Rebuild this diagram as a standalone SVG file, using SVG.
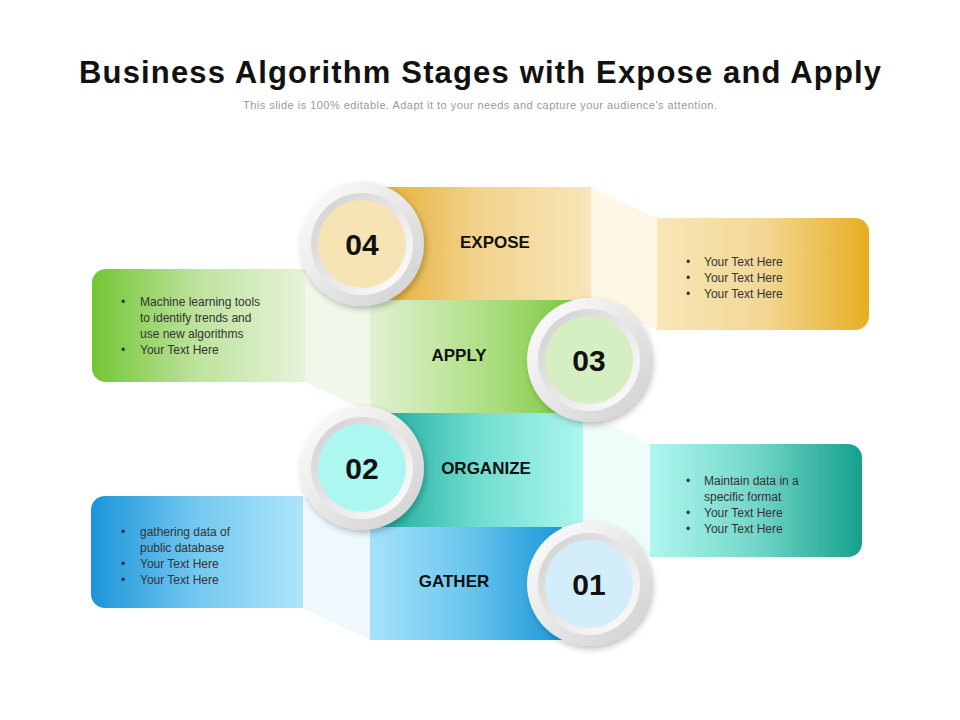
<svg xmlns="http://www.w3.org/2000/svg" width="960" height="720" viewBox="0 0 960 720">
<defs>
<linearGradient id="gE" x1="0" x2="1"><stop offset="0" stop-color="#e6ac2e"/><stop offset="0.5" stop-color="#f2d38e"/><stop offset="1" stop-color="#f8e6b8"/></linearGradient>
<linearGradient id="gR1" x1="0" x2="1"><stop offset="0" stop-color="#f8e6b8"/><stop offset="0.5" stop-color="#f3d796"/><stop offset="1" stop-color="#e7ae22"/></linearGradient>
<linearGradient id="gA" x1="0" x2="1"><stop offset="0" stop-color="#e2f2d2"/><stop offset="0.6" stop-color="#a8dc7a"/><stop offset="1" stop-color="#72c633"/></linearGradient>
<linearGradient id="gL1" x1="0" x2="1"><stop offset="0" stop-color="#72c633"/><stop offset="0.5" stop-color="#bfe39e"/><stop offset="1" stop-color="#e6f3da"/></linearGradient>
<linearGradient id="gO" x1="0" x2="1"><stop offset="0" stop-color="#16a89a"/><stop offset="0.5" stop-color="#6fdccf"/><stop offset="1" stop-color="#adf7ef"/></linearGradient>
<linearGradient id="gR2" x1="0" x2="1"><stop offset="0" stop-color="#aef7ef"/><stop offset="0.5" stop-color="#72d6c8"/><stop offset="1" stop-color="#15a08d"/></linearGradient>
<linearGradient id="gG" x1="0" x2="1"><stop offset="0" stop-color="#a6e2fa"/><stop offset="0.5" stop-color="#6cc6ee"/><stop offset="1" stop-color="#1b98da"/></linearGradient>
<linearGradient id="gL2" x1="0" x2="1"><stop offset="0" stop-color="#1b94da"/><stop offset="0.5" stop-color="#74c8f0"/><stop offset="1" stop-color="#aee6fb"/></linearGradient>
<linearGradient id="ring" x1="0" y1="0" x2="1" y2="1"><stop offset="0" stop-color="#ffffff"/><stop offset="1" stop-color="#cfcfcf"/></linearGradient>
<linearGradient id="ring2" x1="0" y1="0" x2="1" y2="1"><stop offset="0" stop-color="#cfcfcf"/><stop offset="1" stop-color="#ffffff"/></linearGradient>
<filter id="sh" x="-30%" y="-30%" width="160%" height="160%"><feDropShadow dx="2" dy="3" stdDeviation="3" flood-color="#000" flood-opacity="0.25"/></filter>
</defs>
<style>
.t{font-family:"Liberation Sans",Arial,sans-serif;}
.lab{font-family:"Liberation Sans",Arial,sans-serif;font-weight:bold;font-size:17px;fill:#111;text-anchor:middle}
.num{font-family:"Liberation Sans",Arial,sans-serif;font-weight:bold;font-size:30px;fill:#111;text-anchor:middle}
.bt{font-family:"Liberation Sans",Arial,sans-serif;font-size:12px;fill:#333}
</style>
<text class="t" x="480" y="83" font-size="31" font-weight="bold" text-anchor="middle" fill="#111" textLength="802" lengthAdjust="spacing">Business Algorithm Stages with Expose and Apply</text>
<text class="t" x="480" y="109" font-size="11" text-anchor="middle" fill="#999" textLength="474" lengthAdjust="spacing">This slide is 100% editable. Adapt it to your needs and capture your audience's attention.</text>
<g id="connectors">
<polygon points="590,187 657,218 657,330 590,300" fill="#fdf7e6"/>
<polygon points="305,269 370,300 370,413 305,382" fill="#f1f8ea"/>
<polygon points="583,413 650,444 650,557 583,526" fill="#eefcfa"/>
<polygon points="303,496 370,527 370,640 303,608" fill="#eef8fd"/>
</g>
<g id="expose"><rect x="370" y="187" width="221" height="113" fill="url(#gE)"/><text class="lab" x="495" y="248">EXPOSE</text></g>
<g id="apply"><rect x="370" y="300" width="216" height="113" fill="url(#gA)"/><text class="lab" x="459" y="361">APPLY</text></g>
<g id="organize"><rect x="370" y="413" width="213" height="114" fill="url(#gO)"/><text class="lab" x="486" y="474">ORGANIZE</text></g>
<g id="gather"><rect x="370" y="527" width="192" height="113" fill="url(#gG)"/><text class="lab" x="454" y="587">GATHER</text></g>
<g id="box-r1"><path d="M657,218 H855 a14,14 0 0 1 14,14 V316 a14,14 0 0 1 -14,14 H657 Z" fill="url(#gR1)"/>
<text class="bt"><tspan x="686" y="266">•</tspan><tspan x="704" y="266">Your Text Here</tspan><tspan x="686" y="282">•</tspan><tspan x="704" y="282">Your Text Here</tspan><tspan x="686" y="298">•</tspan><tspan x="704" y="298">Your Text Here</tspan></text></g>
<g id="box-l1"><path d="M305,269 H106 a14,14 0 0 0 -14,14 V368 a14,14 0 0 0 14,14 H305 Z" fill="url(#gL1)"/>
<text class="bt"><tspan x="121" y="306">•</tspan><tspan x="140" y="306">Machine learning tools</tspan><tspan x="140" y="322">to identify trends and</tspan><tspan x="140" y="338">use new algorithms</tspan><tspan x="121" y="354">•</tspan><tspan x="140" y="354">Your Text Here</tspan></text></g>
<g id="box-r2"><path d="M650,444 H848 a14,14 0 0 1 14,14 V543 a14,14 0 0 1 -14,14 H650 Z" fill="url(#gR2)"/>
<text class="bt"><tspan x="686" y="485">•</tspan><tspan x="704" y="485">Maintain data in  a</tspan><tspan x="704" y="501">specific format</tspan><tspan x="686" y="517">•</tspan><tspan x="704" y="517">Your Text Here</tspan><tspan x="686" y="533">•</tspan><tspan x="704" y="533">Your Text Here</tspan></text></g>
<g id="box-l2"><path d="M303,496 H105 a14,14 0 0 0 -14,14 V594 a14,14 0 0 0 14,14 H303 Z" fill="url(#gL2)"/>
<text class="bt"><tspan x="121" y="536">•</tspan><tspan x="140" y="536">gathering data of</tspan><tspan x="140" y="552">public database</tspan><tspan x="121" y="568">•</tspan><tspan x="140" y="568">Your Text Here</tspan><tspan x="121" y="584">•</tspan><tspan x="140" y="584">Your Text Here</tspan></text></g>
<g id="c04"><circle cx="362" cy="244" r="62" fill="url(#ring)" filter="url(#sh)"/><circle cx="362" cy="244" r="51" fill="url(#ring2)"/><circle cx="362" cy="244" r="44" fill="#f7e4b4"/><text class="num" x="362" y="255">04</text></g>
<g id="c03"><circle cx="589" cy="360" r="62" fill="url(#ring)" filter="url(#sh)"/><circle cx="589" cy="360" r="51" fill="url(#ring2)"/><circle cx="589" cy="360" r="44" fill="#d5efc2"/><text class="num" x="589" y="371">03</text></g>
<g id="c02"><circle cx="362" cy="468" r="62" fill="url(#ring)" filter="url(#sh)"/><circle cx="362" cy="468" r="51" fill="url(#ring2)"/><circle cx="362" cy="468" r="44" fill="#adf7f1"/><text class="num" x="362" y="479">02</text></g>
<g id="c01"><circle cx="589" cy="584" r="62" fill="url(#ring)" filter="url(#sh)"/><circle cx="589" cy="584" r="51" fill="url(#ring2)"/><circle cx="589" cy="584" r="44" fill="#d3eefa"/><text class="num" x="589" y="595">01</text></g>
</svg>
